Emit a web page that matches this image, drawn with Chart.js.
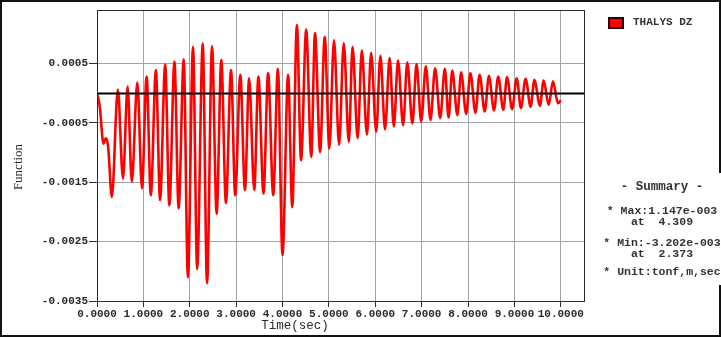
<!DOCTYPE html>
<html>
<head>
<meta charset="utf-8">
<title>THALYS DZ</title>
<script src="https://cdn.jsdelivr.net/npm/chart.js@4.4.1/dist/chart.umd.min.js"></script>
<style>
  html,body{margin:0;padding:0;background:#fff;}
  #wrap{position:relative;width:721px;height:337px;overflow:hidden;}
  #wrap canvas{position:absolute;left:0;top:0;}
  #frame{position:absolute;left:0;top:0;width:721px;height:337px;box-sizing:border-box;border:2px solid #111;pointer-events:none;}
  .txt{position:absolute;white-space:pre;color:#2a2a2a;font-family:'Liberation Mono','DejaVu Sans Mono',monospace;}
  #ytitle{left:18px;top:167px;transform:translate(-50%,-50%) rotate(-90deg);font-family:'Liberation Serif','DejaVu Serif',serif;font-size:13px;}
  #xtitle{left:295px;top:326px;transform:translate(-50%,-50%);font-size:12.5px;}
  #legend{left:608px;top:16px;height:13px;line-height:13px;font-size:11px;font-weight:bold;color:#333;}
  #legend i{display:inline-block;vertical-align:top;width:12px;height:8px;margin-top:1px;background:#ff0000;border:2px solid #300;margin-right:9px;}
  #summary{position:absolute;left:596px;top:173px;width:125px;height:112px;background:#fff;}
  #summary div{position:absolute;left:0;width:132px;text-align:center;transform:translateY(-50%);font-size:11.5px;font-weight:bold;color:#333;}
</style>
</head>
<body>
<div id="wrap">
  <canvas id="chart" width="721" height="337"></canvas>
  <div id="frame"></div>
  <div id="ytitle" class="txt">Function</div>
  <div id="xtitle" class="txt">Time(sec)</div>
  <div id="legend" class="txt"><i></i>THALYS DZ</div>
  <div id="summary">
    <div class="txt" style="top:14px;font-size:12.5px;">- Summary -</div>
    <div class="txt" style="top:37px;">* Max:1.147e-003</div>
    <div class="txt" style="top:48px;">at  4.309</div>
    <div class="txt" style="top:69px;">* Min:-3.202e-003</div>
    <div class="txt" style="top:80px;">at  2.373</div>
    <div class="txt" style="top:98px;">* Unit:tonf,m,sec</div>
  </div>
</div>
<script>
'use strict';

// ── DATA (extremes of each half cycle) ──
const timeSec = [
  0.00, 0.06, 0.14, 0.19, 0.24, 0.32, 0.45, 0.56, 0.66, 0.75,
  0.87, 0.97, 1.07, 1.16, 1.27, 1.36, 1.47, 1.56, 1.67, 1.76,
  1.87, 1.96, 2.07, 2.16, 2.28, 2.373, 2.48, 2.58, 2.68, 2.78,
  2.89, 2.98, 3.09, 3.19, 3.28, 3.39, 3.48, 3.59, 3.69, 3.80,
  3.90, 4.00, 4.12, 4.21, 4.309, 4.40, 4.51, 4.62, 4.70, 4.81,
  4.91, 5.01, 5.11, 5.22, 5.32, 5.43, 5.51, 5.62, 5.71, 5.82,
  5.91, 6.02, 6.11, 6.21, 6.31, 6.40, 6.49, 6.60, 6.69, 6.80,
  6.89, 6.99, 7.09, 7.19, 7.29, 7.40, 7.50, 7.58, 7.66, 7.77,
  7.85, 7.96, 8.05, 8.16, 8.25, 8.36, 8.45, 8.56, 8.65, 8.76,
  8.84, 8.95, 9.05, 9.14, 9.24, 9.35, 9.43, 9.55, 9.63, 9.74,
  9.83, 9.94, 10.00
];
const dispDZ = [
  0, -0.00023, -0.00085, -0.00076, -0.00090, -0.00175, 0.00006, -0.00144, 0.00011, -0.00149,
  0.00018, -0.00160, 0.00028, -0.00172, 0.00039, -0.00180, 0.00048, -0.00189, 0.00053, -0.00194,
  0.00057, -0.00310, 0.00078, -0.00296, 0.00084, -0.003202, 0.00079, -0.00203, 0.00056, -0.00185,
  0.00039, -0.00172, 0.00031, -0.00163, 0.00025, -0.00163, 0.00028, -0.00169, 0.00034, -0.00172,
  0.00041, -0.00273, 0.00031, -0.00192, 0.001147, -0.00113, 0.00107, -0.00107, 0.00101, -0.00099,
  0.00095, -0.00093, 0.00089, -0.00087, 0.00084, -0.00082, 0.00078, -0.00076, 0.00072, -0.00070,
  0.00068, -0.00065, 0.00063, -0.00061, 0.00059, -0.00056, 0.00055, -0.00054, 0.00052, -0.00051,
  0.00049, -0.00048, 0.00045, -0.00045, 0.00042, -0.00042, 0.00041, -0.00041, 0.00038, -0.00037,
  0.00035, -0.00035, 0.00034, -0.00033, 0.00031, -0.00031, 0.00029, -0.00029, 0.00028, -0.00028,
  0.00027, -0.00027, 0.00025, -0.00025, 0.00024, -0.00023, 0.00022, -0.00021, 0.00021, -0.00020,
  0.00020, -0.00017, -0.00012
];
const xTickValues = [0, 1, 2, 3, 4, 5, 6, 7, 8, 9, 10];
const yTickValues = [-0.0035, -0.0025, -0.0015, -0.0005, 0.0005];

// ── STYLE ─────────────────────────────────────────────────
const tickFont = { family: "'Liberation Mono'", size: 11, weight: 'bold' };
const gridColor = '#a3a3a3';
const axisColor = '#2a2a2a';

// zero line + plot frame, drawn over the curve
const framePlugin = {
  id: 'frameZero',
  afterDatasetsDraw(chart){
    const { ctx, chartArea: a, scales: { y } } = chart;
    const y0 = Math.round(y.getPixelForValue(0)) + 0.5;
    ctx.save();
    ctx.beginPath();
    ctx.strokeStyle = '#000';
    ctx.lineWidth = 2;
    ctx.moveTo(a.left, y0);
    ctx.lineTo(a.right, y0);
    ctx.stroke();
    ctx.beginPath();
    ctx.strokeStyle = axisColor;
    ctx.lineWidth = 1;
    ctx.strokeRect(Math.round(a.left) + 0.5, Math.round(a.top) + 0.5,
                   Math.round(a.right - a.left), Math.round(a.bottom - a.top));
    ctx.restore();
  }
};

new Chart(document.getElementById('chart').getContext('2d'), {
  type: 'line',
  data: {
    datasets: [{
      label: 'THALYS DZ',
      data: timeSec.map((t, i) => ({ x: t, y: dispDZ[i] })),
      borderColor: '#ff0000',
      borderWidth: 2.6,
      pointRadius: 0,
      cubicInterpolationMode: 'monotone',
      fill: false
    }]
  },
  options: {
    responsive: false,
    animation: false,
    layout: { padding: { left: 0, right: 137, top: 10, bottom: 0 } },
    plugins: { legend: { display: false }, tooltip: { enabled: false } },
    scales: {
      x: {
        type: 'linear',
        min: 0, max: 10.5,
        afterBuildTicks: s => { s.ticks = xTickValues.map(v => ({ value: v })); },
        afterFit: s => { s.height = 36; },
        ticks: { color: axisColor, font: tickFont, padding: 1, maxRotation: 0,
                 autoSkip: false, callback: v => v.toFixed(4) },
        grid: { color: gridColor, tickColor: axisColor, tickLength: 6, lineWidth: 1 },
        border: { display: false }
      },
      y: {
        type: 'linear',
        min: -0.0035, max: 0.0014,
        afterBuildTicks: s => { s.ticks = yTickValues.map(v => ({ value: v })); },
        afterFit: s => { s.width = 97; },
        ticks: { color: axisColor, font: tickFont, padding: 1, callback: v => v.toFixed(4) },
        grid: { color: gridColor, tickColor: axisColor, tickLength: 8, lineWidth: 1 },
        border: { display: false }
      }
    }
  },
  plugins: [framePlugin]
});
</script>
</body>
</html>
